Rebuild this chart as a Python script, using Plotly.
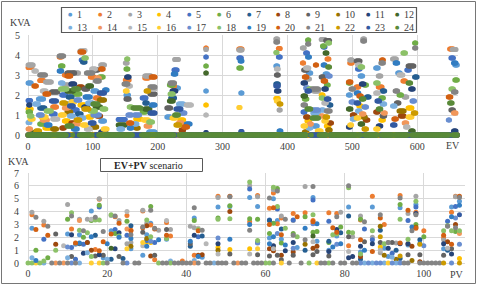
import numpy as np
import plotly.graph_objects as go

# ---------------- series / colours ----------------
SERIES = [str(i) for i in range(1, 25)]
COLORS = ["#5B9BD5", "#ED7D31", "#A5A5A5", "#FFC000", "#4472C4", "#70AD47",
          "#255E91", "#9E480E", "#636363", "#997300", "#264478", "#43682B",
          "#7CAFDD", "#F1975A", "#B7B7B7", "#FFCD33", "#698ED0", "#8CC168",
          "#327DC2", "#D26012", "#848484", "#CC9A00", "#335AA1", "#5A8A39"]

# ---------------- EV chart (top) ----------------
EV_STEPS = 663                      # x = 0 .. 662
EV_XTICKS = [0, 100, 200, 300, 400, 500, 600]
EV_YTICKS = [0, 1, 2, 3, 4, 5]
# runs of equal readings: (series, first x, last x, kVA); all other readings are 0
EV_A = [(3, 0, 8, 3.5), (2, 0, 6, 3.38), (15, 9, 13, 3.2), (1, 0, 5, 2.6), (20, 9, 13, 2.45),
        (5, 0, 4, 1.72), (11, 1, 3, 1.5), (4, 0, 5, 1.3), (6, 0, 4, 1.15), (18, 2, 6, 0.95),
        (13, 0, 3, 0.62), (14, 0, 4, 0.3), (16, 3, 8, 0.8), (12, 6, 12, 0.12),
        (21, 18, 27, 3.0), (2, 18, 24, 2.72), (3, 27, 36, 2.65), (15, 22, 28, 2.2), (1, 16, 24, 1.8),
        (20, 26, 32, 2.05), (7, 18, 26, 1.35), (16, 20, 28, 0.9), (14, 22, 30, 0.75), (17, 16, 22, 1.0),
        (19, 28, 34, 0.5), (4, 26, 34, 0.35), (6, 18, 24, 0.55), (18, 28, 36, 1.2),
        (9, 36, 46, 2.15), (2, 38, 44, 1.4), (5, 36, 42, 1.05), (15, 38, 46, 0.8), (23, 36, 44, 1.7),
        (10, 38, 44, 0.3), (13, 10, 16, 1.55), (22, 12, 18, 0.2)]
EV_B = [(21, 48, 55, 3.95), (2, 48, 52, 3.9), (3, 80, 86, 4.2), (20, 80, 86, 4.15), (15, 84, 88, 4.22),
        (5, 82, 86, 3.75), (18, 86, 90, 3.85), (7, 84, 88, 3.65), (6, 50, 54, 3.45), (19, 48, 52, 3.2),
        (9, 60, 72, 3.1), (3, 70, 78, 3.1), (21, 90, 100, 3.1), (15, 98, 104, 3.3), (2, 56, 64, 3.0),
        (9, 100, 108, 3.25), (3, 112, 118, 3.5), (20, 112, 116, 3.3), (20, 60, 66, 2.95),
        (2, 96, 102, 2.9), (14, 106, 110, 2.85), (11, 66, 72, 2.55), (21, 104, 110, 2.7), (3, 56, 62, 2.5),
        (18, 50, 60, 2.3), (12, 60, 70, 2.2), (24, 70, 78, 2.3), (9, 86, 92, 2.3), (1, 100, 106, 2.2),
        (5, 52, 58, 2.0), (7, 62, 68, 1.9), (6, 72, 80, 2.05), (19, 88, 96, 1.9), (2, 104, 110, 1.85),
        (17, 74, 80, 1.75), (23, 110, 118, 2.1), (1, 60, 66, 1.55), (16, 66, 72, 1.65), (4, 80, 88, 1.5),
        (13, 92, 100, 1.6), (10, 110, 118, 1.75), (14, 56, 62, 1.35), (5, 70, 76, 1.25), (22, 86, 94, 1.3),
        (18, 96, 104, 1.2), (12, 104, 112, 1.4), (16, 50, 56, 1.0), (13, 64, 70, 0.95), (7, 76, 82, 1.05),
        (4, 92, 98, 0.9), (17, 100, 110, 1.0), (4, 56, 62, 0.7), (8, 66, 72, 0.6), (22, 74, 80, 0.75),
        (16, 84, 90, 0.5), (1, 112, 118, 0.7), (24, 60, 68, 0.45), (19, 70, 76, 0.3), (15, 90, 96, 0.3),
        (10, 100, 106, 0.4), (11, 112, 120, 0.15), (13, 50, 54, 2.6), (22, 52, 58, 1.6), (8, 52, 56, 0.35),
        (10, 60, 66, 1.15), (23, 64, 70, 1.45), (14, 72, 78, 0.55), (8, 78, 84, 2.4), (13, 80, 86, 0.85),
        (11, 86, 92, 1.4), (12, 92, 98, 2.45), (23, 96, 102, 0.6), (24, 100, 108, 1.55), (8, 106, 112, 0.95),
        (6, 110, 116, 2.9), (18, 114, 120, 1.3), (19, 118, 122, 2.25), (16, 116, 122, 0.3)]
EV_C = [(5, 139, 150, 0.78), (12, 139, 150, 0.5), (13, 140, 146, 0.3),
        (18, 152, 154, 3.8), (3, 150, 153, 3.6), (6, 151, 154, 3.3), (11, 152, 156, 2.9), (2, 150, 156, 2.75),
        (21, 148, 154, 2.55), (15, 154, 158, 2.45), (16, 150, 153, 2.2), (1, 151, 155, 2.0), (9, 151, 156, 1.8),
        (18, 156, 160, 1.4), (17, 154, 160, 1.0), (20, 155, 160, 0.6), (19, 156, 160, 0.35),
        (24, 162, 174, 1.35), (17, 164, 172, 1.0), (4, 166, 174, 0.8), (13, 162, 168, 0.55), (10, 166, 170, 0.35),
        (3, 180, 190, 2.95), (2, 180, 186, 2.85), (21, 188, 196, 2.4), (9, 188, 196, 2.05), (5, 176, 182, 1.85),
        (7, 180, 184, 1.6), (12, 180, 188, 1.3), (23, 188, 196, 1.1), (16, 178, 186, 0.75), (18, 186, 192, 0.65),
        (14, 182, 188, 0.45), (1, 186, 196, 0.15), (15, 190, 196, 2.3), (20, 190, 196, 2.9), (6, 176, 182, 1.15),
        (19, 190, 196, 1.5), (22, 182, 186, 2.2)]
EV_D = [(3, 226, 232, 3.78), (5, 225, 230, 3.25), (19, 224, 228, 3.05), (21, 219, 226, 2.6), (2, 222, 226, 2.45),
        (6, 218, 224, 2.5), (11, 222, 228, 2.2), (1, 226, 232, 2.35), (18, 219, 224, 2.05), (7, 220, 226, 1.85),
        (12, 218, 224, 1.7), (15, 244, 252, 1.5), (9, 214, 220, 1.35), (13, 232, 240, 1.55), (23, 228, 236, 1.3),
        (17, 236, 242, 1.1), (24, 226, 232, 1.0), (4, 234, 240, 0.75), (14, 232, 238, 0.6), (16, 222, 228, 0.85),
        (20, 240, 246, 0.4), (22, 228, 234, 0.5), (8, 236, 240, 0.25), (19, 244, 250, 0.55), (1, 214, 220, 0.9)]
EV_E = [(2, 274, 275, 4.35), (3, 274, 275, 4.28), (5, 274, 275, 3.9), (6, 274, 275, 3.45), (12, 274, 275, 3.1),
        (1, 274, 275, 2.2), (4, 274, 275, 1.5), (15, 274, 275, 1.0), (11, 274, 275, 0.12)]
EV_F = [(2, 325, 330, 4.3), (3, 325, 330, 4.25), (5, 325, 329, 3.85), (19, 327, 330, 3.7), (6, 325, 329, 3.35),
        (1, 328, 330, 2.1), (16, 325, 327, 1.37), (23, 328, 330, 0.17)]
EV_G = [(3, 382, 385, 4.8), (21, 382, 385, 4.65), (2, 386, 389, 4.33), (18, 382, 384, 4.13), (5, 386, 389, 3.9),
        (1, 382, 385, 3.45), (15, 383, 386, 3.3), (9, 383, 386, 3.0), (7, 382, 386, 2.55), (23, 382, 386, 2.45),
        (11, 383, 387, 2.2), (4, 382, 386, 1.82), (16, 383, 386, 1.7), (22, 387, 390, 1.55), (3, 387, 389, 1.25),
        (19, 387, 390, 0.2)]
EV_H = [(6, 431, 433, 4.75), (21, 431, 433, 4.55), (3, 423, 426, 4.35), (5, 428, 431, 4.1), (19, 431, 434, 3.9),
        (2, 423, 425, 3.6), (15, 428, 433, 3.35), (9, 425, 430, 3.25), (1, 432, 436, 3.1), (20, 426, 430, 2.9),
        (3, 430, 434, 2.8), (11, 424, 428, 2.6), (17, 428, 432, 2.35), (18, 433, 437, 2.3), (23, 430, 434, 2.2),
        (12, 424, 428, 1.95), (6, 426, 430, 1.8), (21, 424, 428, 1.5), (24, 430, 436, 1.3), (5, 424, 427, 1.15),
        (8, 428, 432, 0.9), (4, 430, 434, 0.7), (16, 424, 428, 0.45), (13, 432, 436, 0.35), (10, 426, 430, 0.15),
        (14, 434, 437, 0.55),
        (17, 439, 448, 1.25), (13, 439, 448, 1.1), (24, 438, 448, 0.85), (21, 438, 448, 2.3), (3, 440, 448, 2.2),
        (20, 443, 445, 3.5), (1, 440, 446, 0.45), (16, 446, 452, 0.2),
        (3, 452, 458, 4.78), (9, 459, 465, 4.72), (18, 462, 465, 4.6), (6, 454, 457, 4.45), (5, 455, 458, 4.4),
        (12, 458, 461, 4.1), (2, 461, 464, 3.8), (19, 455, 458, 3.5), (24, 462, 465, 3.4), (1, 458, 462, 3.05),
        (17, 462, 466, 2.95), (20, 455, 459, 2.7), (6, 460, 463, 2.5), (11, 456, 460, 2.3), (4, 452, 455, 2.0),
        (23, 460, 464, 1.8), (15, 456, 460, 1.6), (7, 464, 467, 1.5), (13, 452, 456, 1.25), (21, 460, 466, 1.2),
        (22, 458, 462, 0.9), (16, 456, 460, 0.7), (4, 460, 464, 0.45), (10, 462, 466, 0.25), (14, 452, 455, 0.95),
        (8, 465, 468, 0.6), (18, 452, 455, 1.85), (9, 452, 456, 2.9)]
EV_I = [(3, 496, 500, 3.75), (2, 496, 500, 3.6), (6, 494, 497, 2.6), (20, 494, 498, 2.65), (21, 498, 502, 2.3),
        (1, 494, 497, 2.0), (17, 498, 502, 1.65), (12, 494, 498, 1.3), (8, 500, 504, 1.0), (16, 496, 499, 0.5),
        (13, 500, 504, 0.8), (11, 494, 497, 0.4),
        (3, 516, 519, 4.8), (21, 516, 519, 4.7), (9, 506, 512, 3.7), (15, 508, 512, 3.5), (18, 512, 516, 3.4),
        (5, 508, 512, 3.3), (1, 512, 516, 2.95), (11, 514, 518, 2.55), (2, 506, 510, 2.4), (6, 518, 522, 2.5),
        (19, 506, 510, 2.1), (20, 510, 514, 1.95), (24, 514, 518, 1.8), (23, 506, 510, 1.6), (4, 510, 514, 1.45),
        (17, 518, 522, 1.4), (13, 508, 512, 1.2), (14, 514, 518, 1.05), (10, 516, 520, 0.9), (8, 520, 524, 0.75),
        (16, 506, 510, 0.85), (12, 512, 516, 0.55), (22, 518, 522, 0.3), (7, 522, 526, 1.9),
        (20, 545, 548, 3.75), (21, 544, 548, 3.6), (1, 536, 540, 3.35), (3, 540, 544, 2.95), (2, 540, 546, 2.4),
        (18, 536, 540, 2.6), (7, 546, 550, 2.2), (15, 536, 540, 2.1), (6, 544, 548, 1.85), (23, 538, 542, 1.7),
        (13, 546, 550, 1.55), (24, 540, 544, 1.3), (8, 536, 540, 1.15), (9, 546, 550, 0.95), (4, 544, 548, 0.75),
        (11, 540, 544, 0.45), (16, 536, 540, 0.3), (14, 548, 551, 1.1)]
EV_J = [(3, 562, 568, 3.8), (6, 596, 598, 4.6), (21, 596, 598, 4.35), (18, 578, 582, 4.1), (19, 566, 570, 3.6),
        (9, 586, 595, 3.45), (5, 584, 588, 3.25), (1, 570, 574, 3.1), (15, 572, 578, 3.0), (2, 578, 582, 2.7),
        (24, 586, 590, 2.6), (11, 590, 594, 2.3), (21, 566, 570, 2.2), (6, 572, 576, 2.0), (3, 580, 584, 1.9),
        (9, 568, 572, 1.6), (10, 572, 580, 1.2), (8, 574, 580, 0.95), (4, 586, 592, 1.35), (16, 586, 592, 0.9),
        (23, 562, 566, 0.5), (15, 582, 586, 0.4), (12, 590, 594, 0.2), (13, 562, 566, 1.45), (17, 592, 596, 1.7),
        (20, 564, 568, 0.8), (7, 596, 600, 2.9), (14, 580, 584, 0.6), (22, 594, 598, 1.1)]
EV_K = [(2, 650, 656, 4.3), (3, 654, 660, 4.28), (5, 652, 656, 3.85), (19, 656, 660, 3.6), (1, 658, 662, 3.5),
        (6, 658, 662, 2.75), (18, 652, 656, 2.3), (21, 656, 660, 2.15), (20, 648, 652, 1.9), (24, 650, 654, 1.6),
        (9, 652, 656, 1.25), (14, 656, 660, 1.1), (17, 648, 650, 0.75), (11, 656, 660, 0.2)]

# ---------------- EV+PV chart (bottom) ----------------
PV_XTICKS = [0, 20, 40, 60, 80, 100]
PV_YTICKS = [0, 1, 2, 3, 4, 5, 6, 7]
PV_N = 110                          # x = 0 .. 109
# non-zero readings: (x, [(series, kVA), ...])
PV_0_19 = [(1, [(3, 3.95), (2, 3.75), (1, 2.7), (13, 0.4)]),
           (2, [(21, 3.55), (20, 2.6), (6, 1.0), (19, 0.2)]),
           (4, [(3, 3.25), (2, 2.95), (5, 1.85), (18, 0.15)]),
           (5, [(21, 2.85), (20, 2.15), (6, 0.4)]),
           (7, [(9, 2.25), (8, 1.45), (18, 1.0)]),
           (9, [(15, 1.35)]),
           (10, [(3, 4.55), (6, 3.4), (1, 2.25), (17, 1.25), (13, 0.4)]),
           (11, [(18, 3.9), (21, 3.65), (2, 2.65), (11, 2.2), (5, 1.2), (9, 0.5)]),
           (12, [(20, 1.55), (1, 1.45), (5, 0.3)]),
           (13, [(3, 3.4), (14, 3.3), (18, 2.55), (1, 2.2), (19, 1.55), (9, 1.5)]),
           (14, [(21, 2.5), (6, 2.0), (5, 1.45), (11, 0.75)]),
           (15, [(3, 3.4), (18, 2.35), (8, 1.6), (1, 1.6), (13, 0.8)]),
           (16, [(1, 4.05), (15, 3.4), (6, 3.3), (19, 2.05), (8, 1.0), (18, 0.5)]),
           (17, [(21, 3.55), (18, 3.35), (7, 2.15), (2, 1.05), (9, 0.55)]),
           (18, [(3, 5.0), (2, 4.95), (6, 4.5), (5, 4.35), (18, 3.35), (20, 0.95), (11, 0.65)]),
           (19, [(21, 2.45), (20, 1.65), (9, 0.6), (1, 0.4)])]
PV_20_39 = [(20, [(19, 1.5), (13, 0.3)]),
            (21, [(18, 3.75), (3, 3.7), (1, 2.5), (20, 2.25), (12, 1.15), (7, 0.3)]),
            (22, [(21, 3.65), (2, 3.6), (5, 2.6), (6, 2.3), (11, 1.1)]),
            (23, [(3, 3.3), (20, 3.1), (11, 2.35), (18, 2.1), (19, 2.0), (9, 0.5)]),
            (24, [(7, 0.35)]),
            (25, [(15, 4.0), (2, 3.7), (6, 3.25), (14, 2.65), (5, 2.15), (3, 1.5), (16, 1.1)]),
            (26, [(7, 2.9), (2, 2.55), (20, 2.5), (21, 2.2), (19, 1.9), (3, 1.6), (10, 1.3), (1, 1.1)]),
            (29, [(3, 4.1), (2, 4.05), (21, 2.8), (20, 2.75), (9, 2.4), (16, 1.6), (15, 1.35), (1, 0.6)]),
            (30, [(18, 3.35), (3, 3.1), (8, 2.9), (1, 2.2), (10, 1.9), (5, 1.75), (4, 1.65), (19, 1.3)]),
            (31, [(6, 4.4), (21, 4.1), (1, 3.1), (2, 2.95), (18, 2.05), (17, 1.7), (4, 1.6), (8, 0.55)]),
            (32, [(21, 2.7), (20, 2.65), (5, 1.6), (9, 0.6), (2, 0.25)]),
            (33, [(3, 2.55), (19, 1.8)]),
            (35, [(15, 3.3), (2, 3.15), (9, 2.6), (20, 2.15), (18, 1.9), (1, 1.85)]),
            (36, [(3, 2.6), (2, 2.1), (13, 0.15)]),
            (39, [(2, 0.15)])]
PV_40_59 = [(41, [(3, 2.85), (19, 1.7), (9, 1.5), (7, 1.3)]),
            (42, [(21, 4.3), (1, 3.5), (6, 3.3), (3, 2.75), (11, 2.15), (2, 0.6), (13, 0.2)]),
            (43, [(15, 2.7), (18, 2.6), (20, 2.5), (5, 2.05), (8, 0.6), (19, 0.5)]),
            (44, [(21, 2.55), (7, 2.1), (8, 0.65), (1, 0.45)]),
            (45, [(15, 1.5)]),
            (48, [(2, 5.2), (3, 5.1), (1, 4.35), (6, 3.5), (18, 3.4), (17, 1.95), (11, 1.5), (4, 1.2),
                  (10, 1.0), (15, 0.7)]),
            (51, [(20, 5.2), (21, 5.15), (6, 4.45), (1, 4.4), (8, 4.0), (18, 3.45), (19, 1.85), (4, 1.05),
                  (9, 0.7)]),
            (56, [(18, 6.3), (3, 6.0), (5, 5.75), (1, 5.1), (6, 3.45), (2, 3.2), (19, 3.0), (21, 2.55),
                  (4, 1.1), (15, 0.7)]),
            (58, [(2, 5.25), (3, 5.15), (1, 4.4), (6, 3.4), (18, 1.75), (11, 1.6), (17, 1.55), (16, 1.1),
                  (9, 0.65)])]
PV_60_79 = [(61, [(21, 5.05), (2, 4.25), (5, 3.35), (7, 3.3), (20, 3.0), (6, 2.3), (1, 1.95), (19, 1.5),
                  (8, 1.1), (9, 0.55)]),
            (62, [(18, 5.9), (3, 5.7), (2, 5.45), (1, 5.0), (20, 4.3), (6, 3.1), (19, 2.05), (11, 1.35),
                  (4, 1.3), (15, 1.1), (8, 0.95)]),
            (63, [(6, 5.8), (21, 5.6), (5, 4.2), (18, 4.4), (1, 3.3), (2, 3.05), (17, 2.3), (9, 0.6)]),
            (64, [(3, 3.65), (2, 3.5), (7, 2.65), (20, 2.2), (1, 1.85), (6, 1.55), (8, 0.6), (9, 0.25)]),
            (65, [(21, 3.4), (18, 2.7), (19, 1.4), (11, 0.95)]),
            (67, [(2, 3.85), (5, 3.35), (3, 3.3), (6, 2.3), (21, 2.15), (11, 1.6), (17, 1.15), (8, 0.85),
                  (9, 0.6)]),
            (68, [(20, 3.6), (18, 2.05), (1, 1.2)]),
            (70, [(3, 5.95), (2, 3.9), (6, 3.6), (19, 2.7), (21, 1.8), (10, 1.45), (7, 1.0)]),
            (72, [(21, 5.95), (1, 5.1), (5, 4.9), (18, 3.75), (2, 3.3), (20, 3.2), (17, 3.05), (6, 2.4),
                  (12, 2.1), (15, 1.65), (8, 1.15), (9, 0.65)]),
            (73, [(19, 3.05), (6, 2.45), (1, 1.7), (8, 1.3), (9, 0.9)]),
            (76, [(2, 3.9), (5, 3.25), (7, 1.7), (6, 1.6), (1, 1.0), (11, 0.9), (9, 0.55)]),
            (77, [(20, 2.75), (18, 2.2), (19, 1.25)]),
            (78, [(2, 3.85), (21, 3.6), (11, 2.6), (20, 2.4), (1, 2.1), (18, 2.25), (17, 1.45)]),
            (79, [(3, 3.95), (6, 2.8), (7, 2.35), (19, 1.5)])]
PV_80_109 = [(81, [(21, 6.0), (18, 5.85), (1, 4.35), (7, 3.65), (6, 2.4), (9, 2.05), (2, 1.35), (15, 0.9),
                   (11, 0.4)]),
             (82, [(18, 2.35), (3, 2.05), (11, 0.5)]),
             (84, [(3, 3.65), (6, 3.4), (2, 3.35), (20, 1.8), (11, 1.3), (1, 0.85), (18, 0.7), (8, 0.5),
                   (7, 0.3)]),
             (85, [(21, 3.2), (5, 2.65), (9, 1.65), (19, 1.0)]),
             (87, [(2, 5.2), (1, 4.35), (18, 2.5), (3, 2.0), (5, 1.8), (11, 1.5), (20, 0.9)]),
             (89, [(21, 3.75), (20, 3.5), (10, 2.85), (7, 2.55), (22, 2.05), (9, 1.6), (4, 1.25), (15, 1.0),
                   (3, 0.8)]),
             (90, [(2, 3.0), (18, 1.5), (1, 1.15), (10, 0.6)]),
             (91, [(21, 1.6), (3, 1.6), (11, 1.15), (1, 0.5)]),
             (92, [(9, 1.6), (5, 0.75), (13, 0.45)]),
             (93, [(3, 1.55), (7, 1.0), (10, 0.3)]),
             (94, [(2, 5.25), (21, 5.05), (6, 4.55), (1, 4.3), (18, 3.4), (20, 1.55), (11, 1.5), (22, 0.55),
                   (7, 0.35)]),
             (96, [(20, 4.1), (3, 3.85), (5, 3.3), (18, 1.85), (11, 1.5), (2, 1.5), (1, 1.4), (9, 0.65)]),
             (97, [(19, 2.8), (21, 2.5), (8, 1.3), (10, 0.2)]),
             (98, [(3, 5.2), (18, 4.8), (1, 4.55), (5, 4.35), (2, 3.95), (11, 3.85), (21, 3.75), (6, 3.0),
                   (10, 2.8), (20, 2.7)]),
             (99, [(7, 1.8), (19, 1.5), (22, 1.45), (9, 0.65), (8, 0.1)]),
             (100, [(2, 2.5), (6, 2.05), (17, 1.35)]),
             (105, [(18, 2.5), (20, 2.15), (2, 1.95), (3, 1.8), (11, 1.5), (1, 1.1), (9, 0.6)]),
             (106, [(5, 3.25), (6, 2.9), (21, 2.85), (8, 1.65), (15, 1.15), (7, 1.0)]),
             (107, [(1, 4.35), (2, 3.95), (19, 3.6), (18, 2.5), (20, 1.45), (9, 1.1), (11, 0.7)]),
             (108, [(2, 5.2), (3, 5.15), (5, 4.4), (17, 3.5), (8, 3.0), (21, 2.75), (6, 2.45)]),
             (109, [(20, 5.2), (21, 5.1), (1, 4.8), (19, 4.5), (23, 3.75), (18, 2.5), (14, 2.3), (17, 1.45),
                    (4, 0.35)])]
# series whose zero reading is visible at each x (0 .. 109)
PV_ZERO = [18, 18, 16, 18, 13, 21, 21, 14, 21, 14,
           21, 17, 21, 13, 21, 18, 16, 18, 16, 18,
           21, 18, 21, 18, 21, 17, 21, 21, 21, 21,
           18, 21, 21, 18, 21, 21, 18, 21, 21, 21,
           21, 21, 14, 21, 21, 21, 21, 13, 21, 21,
           21, 21, 21, 14, 21, 21, 21, 21, 21, 21,
           18, 18, 21, 18, 16, 18, 21, 21, 18, 21,
           21, 18, 21, 16, 21, 21, 18, 21, 18, 21,
           21, 18, 21, 21, 17, 13, 17, 13, 17, 17,
           13, 16, 17, 13, 17, 21, 21, 21, 21, 21,
           21, 21, 21, 21, 21, 22, 21, 17, 17, 22]

# ---------------- build series ----------------
ev_x = np.arange(EV_STEPS)
ev_y = {s: np.zeros(EV_STEPS) for s in range(1, 25)}
for runs in (EV_A, EV_B, EV_C, EV_D, EV_E, EV_F, EV_G, EV_H, EV_I, EV_J, EV_K):
    for s, a, b, v in runs:
        ev_y[s][a:b + 1] = v

pv_x = list(range(PV_N))
pv_y = {s: [None] * PV_N for s in range(1, 25)}
for x, s in enumerate(PV_ZERO):
    pv_y[s][x] = 0.0
for group in (PV_0_19, PV_20_39, PV_40_59, PV_60_79, PV_80_109):
    for x, vals in group:
        for s, v in vals:
            pv_y[s][x] = v

W, H = 478, 289
def px(v):
    return v / W
def py(v):
    return 1 - v / H

fig = go.Figure()
for i in range(24):
    fig.add_trace(go.Scatter(x=ev_x, y=ev_y[i + 1], mode="markers", name=SERIES[i],
                             marker=dict(size=5, color=COLORS[i]), xaxis="x", yaxis="y",
                             cliponaxis=False, showlegend=False, hoverinfo="skip"))
for i in range(24):
    fig.add_trace(go.Scatter(x=pv_x, y=pv_y[i + 1], mode="markers", name=SERIES[i],
                             marker=dict(size=5, color=COLORS[i]), xaxis="x2", yaxis="y2",
                             cliponaxis=False, showlegend=False, hoverinfo="skip"))

FONT = "Liberation Serif"
TXT = "#404040"
GRID = "#D9D9D9"
axis_common = dict(showgrid=True, gridcolor=GRID, gridwidth=1, zeroline=True, zerolinecolor=GRID,
                   zerolinewidth=1, showline=False, ticks="", automargin=False,
                   tickfont=dict(family=FONT, size=10, color=TXT))

fig.update_layout(
    width=W, height=H, margin=dict(l=0, r=0, t=0, b=0, autoexpand=False),
    paper_bgcolor="white", plot_bgcolor="white", showlegend=False,
    font=dict(family=FONT, size=10, color=TXT),
    xaxis=dict(domain=[px(28), px(458)], range=[0, 663], tickvals=EV_XTICKS, anchor="y",
               ticklabelstandoff=4, **axis_common),
    yaxis=dict(domain=[py(135), py(35)], range=[0, 5], tickvals=EV_YTICKS, anchor="x",
               ticklabelstandoff=7, **axis_common),
    xaxis2=dict(domain=[px(28), px(465)], range=[0, 110.4], tickvals=PV_XTICKS, anchor="y2",
                ticklabelstandoff=3, **axis_common),
    yaxis2=dict(domain=[py(263), py(173)], range=[0, 7], tickvals=PV_YTICKS, anchor="x2",
                ticklabelstandoff=8, **axis_common),
)

shapes = [
    dict(type="rect", xref="paper", yref="paper", x0=px(1.5), x1=px(475.5), y0=py(283.5), y1=py(1.5),
         line=dict(color="#767676", width=1)),
    dict(type="rect", xref="paper", yref="paper", x0=px(61.5), x1=px(416.5), y0=py(32.5), y1=py(7.5),
         line=dict(color="#595959", width=1.2)),
    dict(type="rect", xref="paper", yref="paper", x0=px(100.5), x1=px(202.5), y0=py(171.5), y1=py(158.5),
         line=dict(color="#595959", width=1)),
]
ann = []
def text(x, y, t, size=10, anchor="center", color=TXT, family=FONT):
    ann.append(dict(xref="paper", yref="paper", x=px(x), y=py(y), text=t, showarrow=False,
                    xanchor=anchor, yanchor="middle", font=dict(family=family, size=size, color=color)))

text(20, 22.5, "KVA", 10)
text(18.5, 161, "KVA", 10)
text(452.7, 145.5, "EV", 10)
text(457, 274, "PV", 10)
text(148, 165, "<b>EV+PV</b> scenario", 10, color="#262626")

for i in range(24):
    row, col = divmod(i, 12)
    dx = 70.7 + 29.73 * col
    dy = 14.3 + 13 * row
    text(dx, dy, "●", 5, color=COLORS[i], family="DejaVu Sans")
    text(dx + 4.5, dy, SERIES[i], 10, anchor="left")

fig.update_layout(shapes=shapes, annotations=ann)
fig.write_html("out.html", config={"displayModeBar": False, "staticPlot": True},
               post_script="document.body.style.margin='0';document.body.style.overflow='hidden';")
